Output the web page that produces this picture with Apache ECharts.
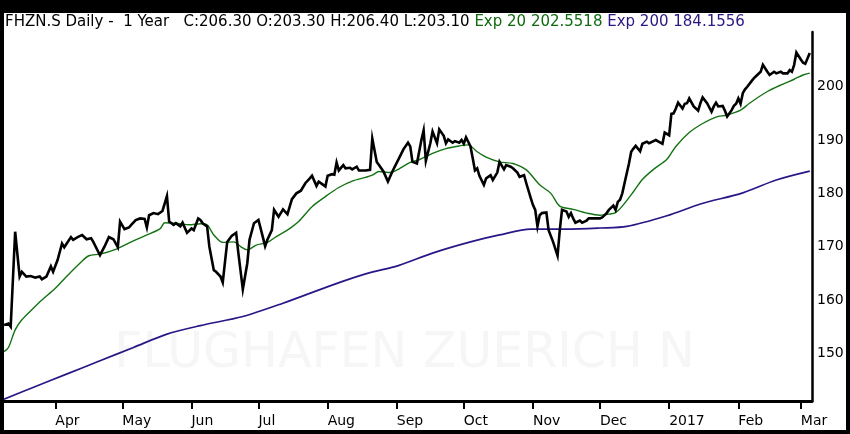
<!DOCTYPE html>
<html>
<head>
<meta charset="utf-8">
<title>FHZN.S Daily - 1 Year</title>
<script src="https://cdn.jsdelivr.net/npm/echarts@6/dist/echarts.min.js"></script>
<style>
    html, body { margin: 0; padding: 0; background: #000; width: 850px; height: 434px; overflow: hidden; }
    #chart { position: absolute; left: 4px; top: 13px; width: 842px; height: 417px; background: #fff; }
</style>
</head>
<body>
<div id="chart"></div>
<script>
// header text
var titleMain = 'FHZN.S Daily -  1 Year   C:206.30 O:203.30 H:206.40 L:203.10';
var titleExp20 = 'Exp 20 202.5518';
var titleExp200 = 'Exp 200 184.1556';
var watermark = 'FLUGHAFEN ZUERICH N';

// x axis ticks
var tickDates = ['2016-04-01', '2016-05-01', '2016-06-01', '2016-07-01', '2016-08-01', '2016-09-01',
    '2016-10-01', '2016-11-01', '2016-12-01', '2017-01-01', '2017-02-01', '2017-03-01'];
var tickLabels = ['Apr', 'May', 'Jun', 'Jul', 'Aug', 'Sep', 'Oct', 'Nov', 'Dec', '2017', 'Feb', 'Mar'];
var priceTicks = [150, 160, 170, 180, 190, 200];

// close
var closeDates = [
    '2016-03-09', '2016-03-11', '2016-03-12', '2016-03-14', '2016-03-16', '2016-03-17', '2016-03-19', '2016-03-21',
    '2016-03-23', '2016-03-25', '2016-03-26', '2016-03-28', '2016-03-30', '2016-03-31', '2016-04-02', '2016-04-04',
    '2016-04-05', '2016-04-08', '2016-04-09', '2016-04-11', '2016-04-13', '2016-04-15', '2016-04-17', '2016-04-18',
    '2016-04-21', '2016-04-23', '2016-04-25', '2016-04-27', '2016-04-29', '2016-04-30', '2016-05-02', '2016-05-04',
    '2016-05-05', '2016-05-07', '2016-05-09', '2016-05-11', '2016-05-12', '2016-05-13', '2016-05-15', '2016-05-17',
    '2016-05-19', '2016-05-21', '2016-05-22', '2016-05-24', '2016-05-25', '2016-05-27', '2016-05-28', '2016-05-30',
    '2016-06-01', '2016-06-02', '2016-06-04', '2016-06-05', '2016-06-06', '2016-06-08', '2016-06-09', '2016-06-11',
    '2016-06-12', '2016-06-14', '2016-06-15', '2016-06-17', '2016-06-19', '2016-06-21', '2016-06-22', '2016-06-24',
    '2016-06-26', '2016-06-27', '2016-06-29', '2016-07-01', '2016-07-02', '2016-07-04', '2016-07-05', '2016-07-07',
    '2016-07-08', '2016-07-10', '2016-07-12', '2016-07-14', '2016-07-16', '2016-07-18', '2016-07-20', '2016-07-22',
    '2016-07-24', '2016-07-25', '2016-07-27', '2016-07-28', '2016-07-31', '2016-08-01', '2016-08-03', '2016-08-04',
    '2016-08-05', '2016-08-06', '2016-08-08', '2016-08-09', '2016-08-11', '2016-08-12', '2016-08-14', '2016-08-15',
    '2016-08-17', '2016-08-18', '2016-08-20', '2016-08-21', '2016-08-23', '2016-08-24', '2016-08-26', '2016-08-28',
    '2016-08-30', '2016-09-02', '2016-09-04', '2016-09-06', '2016-09-07', '2016-09-08', '2016-09-10', '2016-09-12',
    '2016-09-13', '2016-09-14', '2016-09-16', '2016-09-17', '2016-09-19', '2016-09-20', '2016-09-22', '2016-09-23',
    '2016-09-24', '2016-09-26', '2016-09-27', '2016-09-29', '2016-09-30', '2016-10-01', '2016-10-02', '2016-10-04',
    '2016-10-05', '2016-10-06', '2016-10-07', '2016-10-08', '2016-10-10', '2016-10-11', '2016-10-13', '2016-10-14',
    '2016-10-16', '2016-10-17', '2016-10-19', '2016-10-20', '2016-10-22', '2016-10-23', '2016-10-25', '2016-10-26',
    '2016-10-28', '2016-10-29', '2016-10-31', '2016-11-01', '2016-11-02', '2016-11-03', '2016-11-04', '2016-11-05',
    '2016-11-07', '2016-11-08', '2016-11-10', '2016-11-12', '2016-11-13', '2016-11-14', '2016-11-16', '2016-11-17',
    '2016-11-18', '2016-11-19', '2016-11-20', '2016-11-22', '2016-11-23', '2016-11-25', '2016-11-26', '2016-11-29',
    '2016-12-01', '2016-12-02', '2016-12-04', '2016-12-05', '2016-12-07', '2016-12-08', '2016-12-09', '2016-12-10',
    '2016-12-11', '2016-12-12', '2016-12-14', '2016-12-15', '2016-12-16', '2016-12-17', '2016-12-19', '2016-12-20',
    '2016-12-22', '2016-12-23', '2016-12-25', '2016-12-26', '2016-12-29', '2016-12-30', '2017-01-01', '2017-01-02',
    '2017-01-03', '2017-01-04', '2017-01-05', '2017-01-07', '2017-01-08', '2017-01-09', '2017-01-10', '2017-01-12',
    '2017-01-14', '2017-01-15', '2017-01-16', '2017-01-18', '2017-01-20', '2017-01-21', '2017-01-22', '2017-01-23',
    '2017-01-25', '2017-01-26', '2017-01-27', '2017-01-29', '2017-01-30', '2017-01-31', '2017-02-01', '2017-02-02',
    '2017-02-03', '2017-02-04', '2017-02-05', '2017-02-07', '2017-02-08', '2017-02-09', '2017-02-11', '2017-02-12',
    '2017-02-14', '2017-02-15', '2017-02-17', '2017-02-18', '2017-02-20', '2017-02-21', '2017-02-23', '2017-02-24',
    '2017-02-25', '2017-02-26', '2017-02-27', '2017-03-01', '2017-03-02', '2017-03-03', '2017-03-05'
];
var closeValues = [
    155.3, 155.6, 155.0, 172.8, 164.4, 165.3, 164.4, 164.5,
    164.2, 164.4, 163.9, 164.4, 166.3, 165.3, 167.5, 170.6,
    169.9, 171.8, 171.3, 171.8, 172.2, 171.4, 171.6, 170.9,
    168.4, 170.0, 171.8, 171.4, 169.9, 174.7, 173.3, 173.6,
    174.1, 175.0, 175.3, 175.2, 173.6, 175.9, 176.3, 176.1,
    176.7, 179.5, 174.7, 174.1, 174.4, 173.8, 174.5, 172.6,
    173.4, 173.1, 175.3, 175.0, 174.4, 173.8, 170.0, 165.6,
    165.3, 164.4, 163.3, 170.9, 172.0, 172.6, 168.8, 162.0,
    166.9, 171.3, 174.4, 175.0, 173.4, 170.1, 171.3, 173.1,
    176.9, 175.6, 177.0, 176.1, 178.9, 180.0, 180.5, 181.9,
    182.8, 183.3, 181.4, 182.2, 181.3, 183.3, 183.6, 183.5,
    185.8, 184.3, 185.3, 184.7, 184.8, 184.5, 185.0, 184.3,
    184.3, 184.3, 184.4, 190.3, 185.9, 185.3, 184.1, 182.2,
    184.1, 186.6, 188.3, 189.5, 188.8, 185.9, 185.6, 190.0,
    191.8, 186.1, 189.4, 191.6, 189.4, 192.0, 190.8, 189.4,
    190.1, 189.5, 189.8, 189.5, 190.0, 189.3, 190.5, 188.8,
    186.6, 184.3, 184.7, 183.3, 181.6, 182.8, 183.4, 182.5,
    183.9, 185.9, 184.5, 185.3, 185.0, 184.7, 183.9, 183.1,
    183.4, 181.9, 179.1, 177.8, 176.9, 173.8, 175.9, 176.3,
    176.4, 173.1, 170.9, 168.3, 173.1, 176.9, 176.6, 175.6,
    176.3, 175.3, 174.5, 174.9, 174.5, 174.9, 175.3, 175.3,
    175.3, 175.5, 176.3, 176.9, 177.7, 176.9, 178.4, 178.8,
    180.0, 181.9, 185.6, 187.8, 188.4, 188.9, 187.9, 189.3,
    189.7, 189.4, 189.8, 190.0, 189.3, 191.4, 190.9, 194.9,
    195.0, 195.9, 197.0, 195.9, 196.8, 196.9, 197.8, 196.3,
    195.5, 196.9, 198.0, 196.9, 195.3, 196.3, 197.0, 196.3,
    196.4, 195.5, 194.4, 195.6, 196.4, 196.8, 197.8, 196.8,
    198.8, 199.5, 200.0, 201.1, 201.6, 202.0, 202.8, 204.1,
    202.8, 202.2, 202.8, 202.5, 202.8, 202.5, 202.5, 203.1,
    202.8, 204.1, 206.4, 205.1, 204.5, 204.3, 206.3
];

// Exp 20
var ema20Dates = [
    '2016-03-09', '2016-03-11', '2016-03-14', '2016-03-17', '2016-03-22', '2016-03-26', '2016-04-01', '2016-04-06',
    '2016-04-12', '2016-04-16', '2016-04-21', '2016-04-28', '2016-05-06', '2016-05-12', '2016-05-18', '2016-05-20',
    '2016-05-25', '2016-05-31', '2016-06-05', '2016-06-08', '2016-06-11', '2016-06-15', '2016-06-20', '2016-06-23',
    '2016-06-26', '2016-06-30', '2016-07-05', '2016-07-09', '2016-07-15', '2016-07-19', '2016-07-25', '2016-07-31',
    '2016-08-06', '2016-08-12', '2016-08-18', '2016-08-21', '2016-08-24', '2016-08-29', '2016-09-02', '2016-09-07',
    '2016-09-11', '2016-09-17', '2016-09-23', '2016-09-29', '2016-10-03', '2016-10-07', '2016-10-11', '2016-10-17',
    '2016-10-23', '2016-10-29', '2016-11-04', '2016-11-09', '2016-11-13', '2016-11-19', '2016-11-25', '2016-12-01',
    '2016-12-05', '2016-12-08', '2016-12-11', '2016-12-16', '2016-12-20', '2016-12-25', '2016-12-31', '2017-01-04',
    '2017-01-10', '2017-01-16', '2017-01-22', '2017-01-27', '2017-02-02', '2017-02-06', '2017-02-14', '2017-02-21',
    '2017-02-26', '2017-03-02', '2017-03-05'
];
var ema20Values = [
    150.3, 151.1, 154.4, 156.3, 158.4, 160.0, 162.2, 164.4,
    166.9, 168.3, 168.6, 169.5, 171.1, 172.2, 173.4, 174.5,
    174.4, 174.1, 174.3, 174.1, 172.2, 170.8, 170.9, 170.0,
    169.4, 170.3, 170.8, 171.9, 173.4, 174.7, 177.5, 179.4,
    181.1, 182.3, 183.0, 183.4, 184.1, 183.9, 184.6, 185.8,
    186.3, 187.5, 188.4, 188.9, 189.1, 187.8, 186.8, 185.9,
    185.6, 184.4, 181.6, 180.0, 177.6, 177.0, 176.3, 175.9,
    176.1, 176.4, 177.6, 180.3, 182.6, 184.5, 186.4, 188.8,
    191.4, 193.1, 194.3, 194.7, 195.6, 196.9, 199.1, 200.5,
    201.4, 202.2, 202.55
];

// Exp 200
var ema200Dates = [
    '2016-03-09', '2016-03-22', '2016-04-06', '2016-04-21', '2016-05-06', '2016-05-21', '2016-06-05', '2016-06-24',
    '2016-07-12', '2016-08-03', '2016-08-18', '2016-09-02', '2016-09-17', '2016-10-04', '2016-10-17', '2016-10-31',
    '2016-11-16', '2016-12-01', '2016-12-13', '2016-12-31', '2017-01-15', '2017-02-03', '2017-02-18', '2017-03-05'
];
var ema200Values = [
    141.4, 143.6, 146.1, 148.6, 151.1, 153.6, 155.2, 156.9,
    159.4, 162.8, 164.9, 166.5, 168.8, 170.9, 172.2, 173.3,
    173.3, 173.5, 173.8, 175.8, 178.0, 180.1, 182.5, 184.16
];

function toTime(s) {
    return echarts.time.parse(s).getTime();
}

function pairs(dates, values) {
    var out = [];
    for (var i = 0; i < dates.length; i++) {
        out.push([toTime(dates[i]), values[i]]);
    }
    return out;
}

var tickTimes = tickDates.map(toTime);

var chart = echarts.init(document.getElementById('chart'));

chart.setOption({
    animation: false,
    backgroundColor: '#fff',
    textStyle: { fontFamily: 'DejaVu Sans' },
    grid: { left: 0, right: 34, top: 19, bottom: 29, containLabel: false, outerBoundsMode: 'none' },
    graphic: [
        {
            type: 'text',
            left: 1,
            top: 2,
            z: 10,
            style: {
                text: '{k|' + titleMain + '} {g|' + titleExp20 + '} {p|' + titleExp200 + '}',
                font: '15px DejaVu Sans',
                rich: {
                    k: { fill: '#000', font: '15px DejaVu Sans' },
                    g: { fill: '#0f6a0f', font: '15px DejaVu Sans' },
                    p: { fill: '#2c1682', font: '15px DejaVu Sans' }
                }
            }
        },
        {
            type: 'text',
            x: 691,
            y: 341,
            z: 0,
            silent: true,
            style: {
                text: watermark,
                fill: '#f6f6f6',
                font: '49px DejaVu Sans',
                align: 'right',
                verticalAlign: 'middle'
            }
        }
    ],
    xAxis: {
        type: 'value',
        min: toTime('2016-03-09'),
        max: toTime('2017-03-06'),
        splitLine: { show: false },
        axisLine: { lineStyle: { color: '#000', width: 3 } },
        axisTick: {
            customValues: tickTimes,
            length: 8,
            lineStyle: { color: '#000', width: 2 }
        },
        axisLabel: {
            customValues: tickTimes,
            align: 'left',
            margin: 13,
            color: '#000',
            fontSize: 14,
            fontFamily: 'DejaVu Sans',
            formatter: function (value) {
                var i = tickTimes.indexOf(value);
                return i >= 0 ? tickLabels[i] : '';
            }
        }
    },
    yAxis: {
        type: 'value',
        position: 'right',
        min: 141.06,
        max: 210.26,
        splitLine: { show: false },
        axisLine: { show: true, lineStyle: { color: '#000', width: 2.5 } },
        axisTick: { show: false },
        axisLabel: {
            customValues: priceTicks,
            margin: 5,
            color: '#000',
            fontSize: 14,
            fontFamily: 'DejaVu Sans'
        }
    },
    series: [
        {
            name: 'Exp 200',
            type: 'line',
            data: pairs(ema200Dates, ema200Values),
            showSymbol: false,
            smooth: 0.3,
            z: 3,
            lineStyle: { color: '#2a1687', width: 1.7 }
        },
        {
            name: 'Exp 20',
            type: 'line',
            data: pairs(ema20Dates, ema20Values),
            showSymbol: false,
            smooth: 0.3,
            z: 4,
            lineStyle: { color: '#137313', width: 1.4 }
        },
        {
            name: 'Close',
            type: 'line',
            data: pairs(closeDates, closeValues),
            showSymbol: false,
            z: 5,
            lineStyle: { color: '#000', width: 2.6, join: 'miter' }
        }
    ]
});
</script>
</body>
</html>
